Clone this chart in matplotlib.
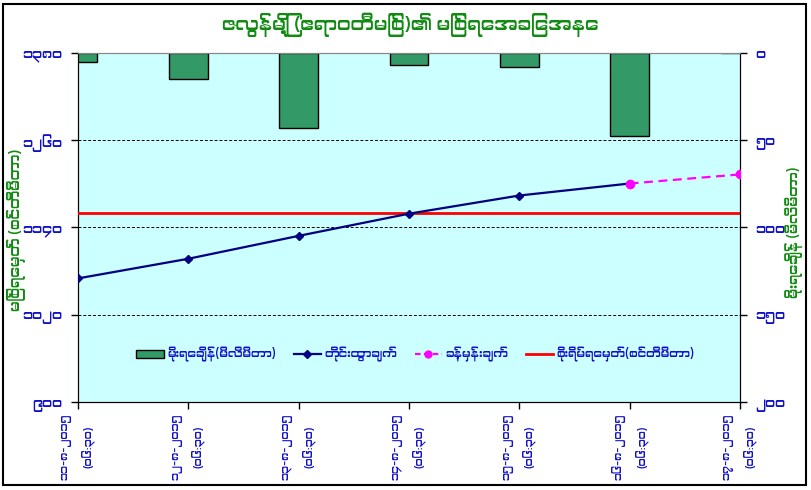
import matplotlib
matplotlib.use("Agg")
import matplotlib.pyplot as plt
from matplotlib import font_manager as fm
from matplotlib.patches import Rectangle, Patch
from matplotlib.lines import Line2D

# ---------------- data ----------------
dates = ["၁၁-၈-၂၀၁၅", "၁၂-၈-၂၀၁၅", "၁၃-၈-၂၀၁၅", "၁၄-၈-၂၀၁၅",
         "၁၅-၈-၂၀၁၅", "၁၆-၈-၂၀၁၅", "၁၇-၈-၂၀၁၅"]
time_label = "(၀၆:၃၀)"
rainfall = [5, 15, 43, 7, 8, 47.5, 0]            # mm (right axis, inverted)
observed = [1070, 1097, 1128.5, 1159, 1184, 1200.5]  # cm
forecast_idx = [5, 6]
forecast = [1200.5, 1213]
danger_level = 1160
left_ticks = [900, 1020, 1140, 1260, 1380]
right_ticks = [0, 50, 100, 150, 200]

title = "ဇလွန်မြို့ (ဧရာဝတီမြစ်)၏ မြစ်ရေအခြေအနေ"
ylabel_left = "မြစ်ရေမှတ် (စင်တီမီတာ)"
ylabel_right = "မိုးရေချိန် (မီလီမီတာ)"
leg_labels = ["မိုးရေချိန်(မီလီမီတာ)", "တိုင်းထွာချက်", "ခန့်မှန်းချက်", "စိုးရိမ်ရေမှတ်(စင်တီမီတာ)"]

# ---------------- font search (Myanmar) ----------------
def find_myanmar_font():
    keys = ("myanmar", "padauk", "pyidaungsu", "zawgyi", "masterpiece")
    for f in fm.fontManager.ttflist:
        if any(k in f.name.lower() for k in keys):
            return f.name
    try:
        from matplotlib.ft2font import FT2Font
        seen = set()
        for f in fm.fontManager.ttflist:
            if f.fname in seen:
                continue
            seen.add(f.fname)
            try:
                if 0x1000 in FT2Font(f.fname).get_charmap():
                    return f.name
            except Exception:
                pass
    except Exception:
        pass
    return None

mm = find_myanmar_font()
fams = ([mm] if mm else []) + ["DejaVu Sans"]
plt.rcParams["font.family"] = fams
plt.rcParams["font.weight"] = "bold"

MY_DIGITS = "၀၁၂၃၄၅၆၇၈၉"
def mdig(n):
    return "".join(MY_DIGITS[int(c)] for c in str(int(n)))

BLUE = "#1010C8"
GREEN = "#108A10"

fig = plt.figure(figsize=(8.12, 4.9), dpi=100)
fig.patch.set_facecolor("white")
fig.patches.append(Rectangle((3/812, 5/490), 803/812, 481/490, transform=fig.transFigure,
                             fill=False, edgecolor="black", linewidth=1.5))

ax2 = fig.add_axes([78/812, 88/490, 662/812, 349/490])
ax = ax2.twinx()
# put line axis on top of bar axis
ax.set_zorder(ax2.get_zorder() + 1)
ax.patch.set_visible(False)
ax2.set_facecolor("#CCFFFF")

x = list(range(len(dates)))

# bars (rainfall) on ax2, ticks on the right side, inverted
ax2.bar(x, rainfall, width=0.35, color="#339966", edgecolor="black", linewidth=1.0, zorder=2)
ax2.set_ylim(200, 0)
ax2.set_xlim(0, 6)
ax2.yaxis.tick_right()
ax2.yaxis.set_label_position("right")
ax2.set_yticks(right_ticks)
ax2.set_yticklabels([mdig(v) for v in right_ticks], color=BLUE, fontsize=10, fontweight="bold")

ax.yaxis.tick_left()
ax.yaxis.set_label_position("left")
ax.set_ylim(900, 1380)
ax.set_yticks(left_ticks)
ax.set_yticklabels([mdig(v) for v in left_ticks], color=BLUE, fontsize=10, fontweight="bold")
for v in left_ticks[1:-1]:
    ax.axhline(v, color="black", linestyle=(0, (3, 2)), linewidth=0.7, zorder=1)

ax.axhline(danger_level, color="#FF0000", linewidth=2.0, zorder=3)
ax.plot(x[:len(observed)], observed, color="#000080", linewidth=1.6, marker="D",
        markersize=4.5, zorder=4)
ax.plot(forecast_idx, forecast, color="#FF00FF", linewidth=1.6, linestyle=(0, (4, 2.5)),
        marker="o", markersize=6, zorder=4)

ax2.set_xticks(x)
ax2.set_xticklabels([d + "\n" + time_label for d in dates], rotation=90, color=BLUE,
                    fontsize=8, fontweight="bold", linespacing=1.9)

for a in (ax, ax2):
    a.tick_params(axis="both", length=5, width=1, color="black")
    a.spines["top"].set_color("#888888")
    a.spines["left"].set_color("black")
    a.spines["right"].set_color("black")
    a.spines["bottom"].set_color("black")
ax.tick_params(axis="y", pad=6)
ax2.tick_params(axis="y", pad=6)
ax2.tick_params(axis="x", pad=3)

fig.text(410/812, 1 - 25/490, title, ha="center", va="center", color=GREEN,
         fontsize=13.5, fontweight="bold")
fig.text(16/812, 1 - 230/490, ylabel_left, ha="center", va="center", rotation=90,
         color=GREEN, fontsize=10.5, fontweight="bold")
fig.text(795/812, 1 - 232/490, ylabel_right, ha="center", va="center", rotation=90,
         color=GREEN, fontsize=10, fontweight="bold")

handles = [
    Patch(facecolor="#339966", edgecolor="black", linewidth=1.0),
    Line2D([], [], color="#000080", linewidth=1.6, marker="D", markersize=4),
    Line2D([], [], color="#FF00FF", linewidth=1.6, linestyle=(0, (2.5, 1.5)), marker="o", markersize=5),
    Line2D([], [], color="#FF0000", linewidth=2.0),
]
leg = ax.legend(handles, leg_labels, loc="center", bbox_to_anchor=(0.51, 0.135), ncol=4,
                frameon=False, fontsize=8.5, handlelength=2.3, columnspacing=1.5,
                handletextpad=0.3)
for t in leg.get_texts():
    t.set_color(BLUE)
    t.set_fontweight("bold")

fig.savefig("out.png", dpi=100, facecolor="white")
